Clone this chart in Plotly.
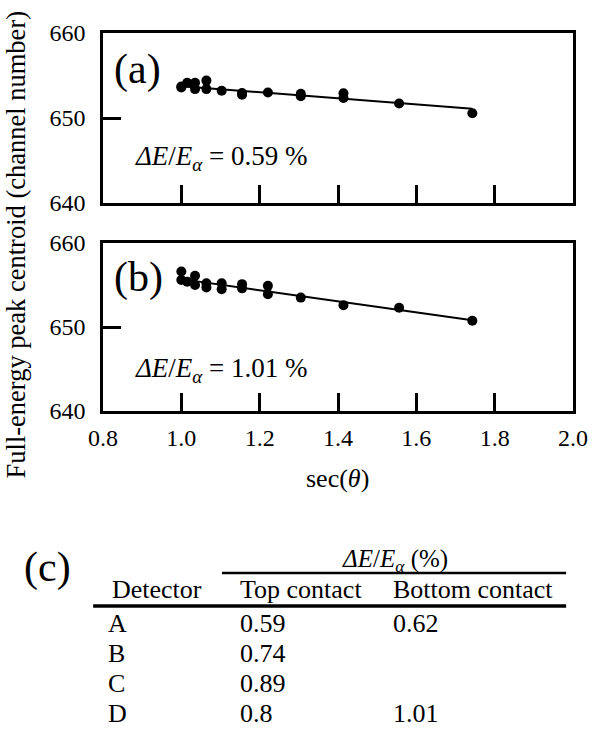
import plotly.graph_objects as go

# ---------------- data ----------------
sec_a = [1.0, 1.0, 1.015, 1.035, 1.035, 1.064, 1.064, 1.103, 1.155, 1.155, 1.221,
         1.305, 1.305, 1.414, 1.414, 1.556, 1.743]
cen_a = [653.7, 653.6, 654.15, 654.15, 653.4, 654.4, 653.4, 653.2, 652.95, 652.75, 653.0,
         652.85, 652.55, 652.9, 652.35, 651.7, 650.55]
fit_a_x = [1.0, 1.743]
fit_a_y = [653.75, 651.1]

sec_b = [1.0, 1.0, 1.015, 1.035, 1.035, 1.064, 1.064, 1.103, 1.103, 1.155, 1.155,
         1.221, 1.221, 1.305, 1.414, 1.556, 1.743]
cen_b = [656.6, 655.6, 655.4, 656.1, 655.0, 655.2, 654.7, 655.2, 654.5, 655.1, 654.6,
         654.9, 653.9, 653.5, 652.6, 652.3, 650.75]
fit_b_x = [1.0, 1.743]
fit_b_y = [655.7, 650.8]

x_ticks = [0.8, 1.0, 1.2, 1.4, 1.6, 1.8, 2.0]
x_ticklabels = ["0.8", "1.0", "1.2", "1.4", "1.6", "1.8", "2.0"]
y_ticks = [640, 650, 660]

res_a = "0.59"
res_b = "1.01"

detectors = ["A", "B", "C", "D"]
top_contact = ["0.59", "0.74", "0.89", "0.8"]
bottom_contact = ["0.62", "", "", "1.01"]

# ---------------- layout helpers ----------------
W, H = 600, 731
L, R, T, B = 103, 581, 33, 411
FONT = '"Liberation Serif", "Times New Roman", Times, serif'


def px(x):
    return (x - L) / (R - L)


def py(y):
    return (B - y) / (B - T)


fig = go.Figure()
fig.add_trace(go.Scatter(x=fit_a_x, y=fit_a_y, mode="lines",
                         line=dict(color="black", width=2), xaxis="x", yaxis="y",
                         showlegend=False))
fig.add_trace(go.Scatter(x=sec_a, y=cen_a, mode="markers",
                         marker=dict(color="black", size=10), xaxis="x", yaxis="y",
                         showlegend=False))
fig.add_trace(go.Scatter(x=fit_b_x, y=fit_b_y, mode="lines",
                         line=dict(color="black", width=2), xaxis="x2", yaxis="y2",
                         showlegend=False))
fig.add_trace(go.Scatter(x=sec_b, y=cen_b, mode="markers",
                         marker=dict(color="black", size=10), xaxis="x2", yaxis="y2",
                         showlegend=False))

common_x = dict(range=[0.8, 2.0], tickvals=x_ticks, ticktext=x_ticklabels,
                ticks="inside", ticklen=18, tickwidth=2.5, tickcolor="black",
                showline=True, linecolor="black", linewidth=2.5, mirror=True,
                showgrid=False, zeroline=False,
                tickfont=dict(family=FONT, size=24, color="black"))
common_y = dict(range=[640, 660], tickvals=y_ticks,
                ticks="inside", ticklen=18, tickwidth=2.5, tickcolor="black",
                showline=True, linecolor="black", linewidth=2.5, mirror=True,
                showgrid=False, zeroline=False, ticklabelstandoff=10,
                tickfont=dict(family=FONT, size=24, color="black"))

dom_a = [py(203), 1.0]
dom_b = [0.0, py(243)]

fig.update_layout(
    width=W, height=H,
    margin=dict(l=L, r=W - R, t=T, b=H - B),
    paper_bgcolor="white", plot_bgcolor="white",
    font=dict(family=FONT, color="black"),
    xaxis=dict(common_x, anchor="y", showticklabels=False),
    yaxis=dict(common_y, domain=dom_a, anchor="x"),
    xaxis2=dict(common_x, anchor="y2", ticklabelstandoff=3),
    yaxis2=dict(common_y, domain=dom_b, anchor="x2"),
)

ann = []


def text(x, y, s, size, xanchor="left", yanchor="middle", angle=0):
    ann.append(dict(x=px(x), y=py(y), xref="paper", yref="paper", text=s,
                    showarrow=False, xanchor=xanchor, yanchor=yanchor,
                    textangle=angle, font=dict(family=FONT, size=size, color="black")))


# panel labels
text(112, 69, "(a)", 42)
text(112, 277, "(b)", 42)
# resolution labels
text(134, 158, "<i>ΔE</i>/<i>E</i><sub><i>α</i></sub> = " + res_a + " %", 27)
text(134, 370, "<i>ΔE</i>/<i>E</i><sub><i>α</i></sub> = " + res_b + " %", 27)
# axis titles
text(15, 244, "Full-energy peak centroid (channel number)", 26.5,
     xanchor="center", angle=-90)
text(341, 478, "sec(<i>θ</i>)", 26, xanchor="center")

# table
text(21, 567, "(c)", 42)
text(400, 560, "<i>ΔE</i>/<i>E</i><sub><i>α</i></sub> (%)", 25, xanchor="center")
text(110, 589, "Detector", 26)
text(240, 589, "Top contact", 26)
text(396, 589, "Bottom contact", 26)
row_y = [623, 653, 683, 713]
for d, t_, b_, yy in zip(detectors, top_contact, bottom_contact, row_y):
    text(106, yy, d, 26)
    text(240, yy, t_, 26)
    if b_:
        text(396, yy, b_, 26)

fig.update_layout(annotations=ann)

shapes = [
    dict(type="line", xref="paper", yref="paper", x0=px(224), x1=px(574),
         y0=py(573), y1=py(573), line=dict(color="black", width=2.5)),
    dict(type="line", xref="paper", yref="paper", x0=px(93), x1=px(574),
         y0=py(606), y1=py(606), line=dict(color="black", width=3.5)),
]
fig.update_layout(shapes=shapes)

fig.write_html("out.html", config={"displayModeBar": False},
               post_script="document.body.style.margin='0px';")
